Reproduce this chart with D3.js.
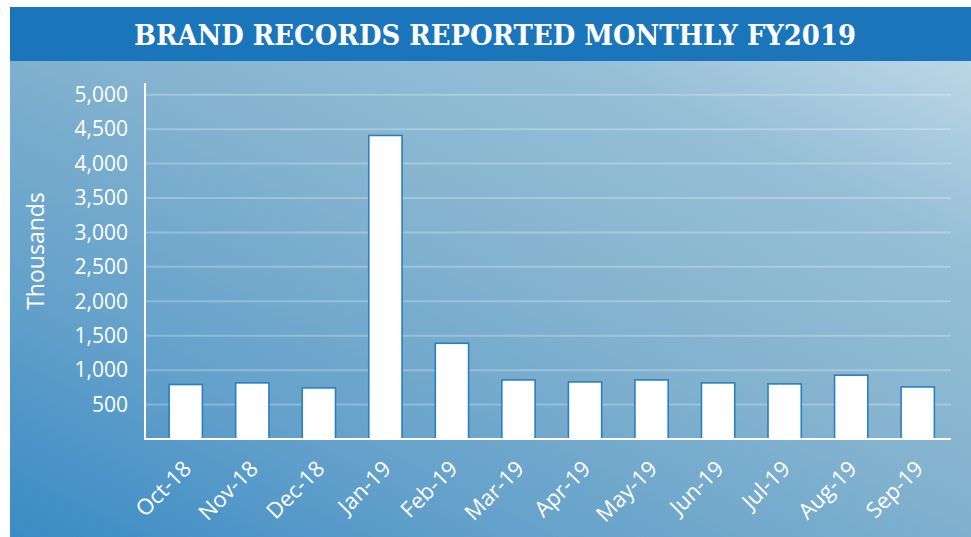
<!DOCTYPE html>
<html>
<head>
<meta charset="utf-8">
<script src="https://cdn.jsdelivr.net/npm/d3@7"></script>
<style>
  body { margin: 0; background: #fff; }
</style>
</head>
<body>
<div id="container"></div>
<script>
/** CONSTANTS AND GLOBALS */
const width = 971,
  height = 537,
  margin = { top: 83, bottom: 98, left: 145, right: 20 };

/** DATA */
const months = ["Oct-18", "Nov-18", "Dec-18", "Jan-19", "Feb-19", "Mar-19",
  "Apr-19", "May-19", "Jun-19", "Jul-19", "Aug-19", "Sep-19"];
const records = [791, 815, 742, 4408, 1390, 858, 829, 858, 815, 800, 927, 756];
const yTicks = [500, 1000, 1500, 2000, 2500, 3000, 3500, 4000, 4500, 5000];
const title = "BRAND RECORDS REPORTED MONTHLY FY2019";
const yLabel = "Thousands";

const svg = d3.select("#container")
  .append("svg")
  .attr("width", width)
  .attr("height", height)

// background gradient
const defs = svg.append("defs")
const grad = defs.append("linearGradient")
  .attr("id", "bg")
  .attr("x1", "0%").attr("y1", "100%")
  .attr("x2", "100%").attr("y2", "0%")
grad.append("stop").attr("offset", "0%").attr("stop-color", "#3a8bc5")
grad.append("stop").attr("offset", "25%").attr("stop-color", "#62a0ca")
grad.append("stop").attr("offset", "55%").attr("stop-color", "#84b3cf")
grad.append("stop").attr("offset", "80%").attr("stop-color", "#96bfd6")
grad.append("stop").attr("offset", "100%").attr("stop-color", "#bbd6e6")

svg.append("rect")
  .attr("x", 10).attr("y", 61)
  .attr("width", width - 10).attr("height", height - 61)
  .attr("fill", "url(#bg)")

// title bar
svg.append("rect")
  .attr("x", 10).attr("y", 7)
  .attr("width", width - 10).attr("height", 54)
  .attr("fill", "#1b75bb")

svg.append("text")
  .attr("x", 495).attr("y", 45)
  .attr("text-anchor", "middle")
  .attr("textLength", 722)
  .attr("lengthAdjust", "spacingAndGlyphs")
  .style("font-family", "'DejaVu Serif Condensed', 'DejaVu Serif', serif")
  .style("font-stretch", "condensed")
  .style("font-weight", "bold")
  .style("font-size", "27px")
  .attr("fill", "#fff")
  .text(title)

// scales
const y = d3.scaleLinear()
  .domain([0, 5170])
  .range([height - margin.bottom, margin.top])

const x = d3.scaleBand()
  .domain(months)
  .range([152.5, width - margin.right])
  .paddingInner(0.5)
  .paddingOuter(0.25)

// gridlines
svg.append("g")
  .selectAll("line")
  .data(yTicks)
  .join("line")
  .attr("x1", margin.left)
  .attr("x2", width - margin.right)
  .attr("y1", d => y(d))
  .attr("y2", d => y(d))
  .attr("stroke", "#fff")
  .attr("stroke-opacity", 0.25)
  .attr("stroke-width", 2)

// y axis
const yAxis = svg.append("g")
  .attr("transform", `translate(${margin.left},0)`)
  .call(d3.axisLeft(y).tickValues(yTicks).tickFormat(d3.format(",")).tickSize(0).tickPadding(17))
yAxis.select(".domain").remove()
yAxis.selectAll("text")
  .attr("fill", "#fff")
  .style("font-family", "'Open Sans', sans-serif")
  .style("font-size", "21px")

svg.append("line")
  .attr("x1", margin.left).attr("x2", margin.left)
  .attr("y1", margin.top).attr("y2", y(0) + 1)
  .attr("stroke", "#fff")
  .attr("stroke-width", 2)

svg.append("text")
  .attr("transform", `translate(44,251) rotate(-90)`)
  .attr("text-anchor", "middle")
  .attr("fill", "#fff")
  .style("font-family", "'Open Sans', sans-serif")
  .style("font-size", "23px")
  .text(yLabel)

// bars
svg.append("g")
  .selectAll("rect")
  .data(records)
  .join("rect")
  .attr("x", (d, i) => x(months[i]))
  .attr("y", d => y(d))
  .attr("width", x.bandwidth())
  .attr("height", d => y(0) - y(d))
  .attr("fill", "#fff")
  .attr("stroke", "#2a7fc2")
  .attr("stroke-width", 1.6)

// x axis
svg.append("line")
  .attr("x1", margin.left - 1).attr("x2", width - margin.right)
  .attr("y1", y(0)).attr("y2", y(0))
  .attr("stroke", "#fff")
  .attr("stroke-width", 2)

svg.append("g")
  .selectAll("text")
  .data(months)
  .join("text")
  .attr("transform", d => `translate(${x(d) + x.bandwidth() / 2 + 7},${y(0) + 31}) rotate(-45)`)
  .attr("text-anchor", "end")
  .attr("fill", "#fff")
  .style("font-family", "'Open Sans', sans-serif")
  .style("font-size", "22px")
  .text(d => d)
</script>
</body>
</html>
